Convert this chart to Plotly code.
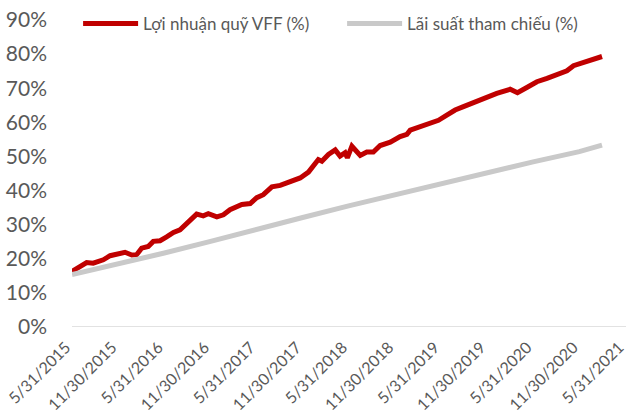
import plotly.graph_objects as go

# VFF fund return (%)
vff_dates = [
    "2015-05-31", "2015-07-28", "2015-08-23", "2015-10-02", "2015-10-29", "2015-11-24",
    "2015-12-27", "2016-01-23", "2016-02-11", "2016-03-02", "2016-03-28", "2016-04-17",
    "2016-05-14", "2016-06-09", "2016-07-06", "2016-08-01", "2016-08-28", "2016-10-06",
    "2016-11-01", "2016-11-21", "2016-12-25", "2017-01-20", "2017-02-15", "2017-04-03",
    "2017-05-06", "2017-06-01", "2017-06-27", "2017-07-31", "2017-09-02", "2017-10-11",
    "2017-11-20", "2017-12-23", "2018-01-18", "2018-01-31", "2018-02-14", "2018-03-12",
    "2018-04-08", "2018-04-27", "2018-05-17", "2018-05-26", "2018-06-13", "2018-07-16",
    "2018-08-11", "2018-09-06", "2018-10-03", "2018-11-12", "2018-12-21", "2019-01-17",
    "2019-01-30", "2019-03-11", "2019-04-19", "2019-05-22", "2019-06-24", "2019-07-27",
    "2019-08-29", "2019-10-08", "2019-11-16", "2020-01-08", "2020-03-01", "2020-03-30",
    "2020-05-06", "2020-06-15", "2020-07-25", "2020-09-09", "2020-10-12", "2020-11-07",
    "2020-12-17", "2021-01-25", "2021-02-28",
]
vff_values = [
    16.3, 18.9, 18.7, 19.7, 20.9, 21.5,
    21.9, 21.1, 21.2, 23.1, 23.6, 25.1,
    25.3, 26.4, 27.7, 28.5, 30.5, 33.1,
    32.6, 33.2, 32.3, 32.9, 34.4, 35.9,
    36.2, 37.9, 38.8, 41.1, 41.5, 42.7,
    43.7, 45.4, 47.6, 49.1, 48.6, 50.6,
    51.9, 50.1, 51.1, 49.6, 53.0, 50.3,
    51.3, 51.3, 53.2, 54.2, 55.8, 56.5,
    57.7, 58.7, 59.9, 60.6, 62.1, 63.6,
    64.6, 65.8, 67.3, 68.5, 69.7, 68.7,
    70.2, 71.9, 72.9, 74.1, 75.1, 76.6,
    77.6, 78.5, 79.3,
]

# Reference rate (%)
ref_dates = [
    "2015-05-31", "2015-11-30", "2016-05-31", "2016-11-30", "2017-05-31", "2017-11-30",
    "2018-05-31", "2018-11-30", "2019-05-31", "2019-11-30", "2020-05-31", "2020-11-30",
    "2021-02-28",
]
ref_values = [15.4, 18.4, 21.7, 25.1, 28.7, 32.1, 35.5, 38.8, 42.0, 45.3, 48.4, 51.4, 53.3]

tick_dates = [
    "2015-05-31", "2015-11-30", "2016-05-31", "2016-11-30", "2017-05-31", "2017-11-30",
    "2018-05-31", "2018-11-30", "2019-05-31", "2019-11-30", "2020-05-31", "2020-11-30",
    "2021-05-31",
]
tick_labels = [
    "5/31/2015", "11/30/2015", "5/31/2016", "11/30/2016", "5/31/2017", "11/30/2017",
    "5/31/2018", "11/30/2018", "5/31/2019", "11/30/2019", "5/31/2020", "11/30/2020",
    "5/31/2021",
]
y_ticks = [0, 10, 20, 30, 40, 50, 60, 70, 80, 90]
y_labels = [f"{v}%" for v in y_ticks]

fig = go.Figure()
fig.add_trace(go.Scatter(
    x=vff_dates, y=vff_values, mode="lines", name="Lợi nhuận quỹ VFF (%)",
    line=dict(color="#C00000", width=5),
))
fig.add_trace(go.Scatter(
    x=ref_dates, y=ref_values, mode="lines", name="Lãi suất tham chiếu (%)",
    line=dict(color="#C9C9C9", width=5),
))

font_color = "#595959"
fig.update_layout(
    width=630, height=415,
    margin=dict(l=72, r=4, t=20, b=88),
    paper_bgcolor="white", plot_bgcolor="white",
    font=dict(family="Lato", color=font_color),
    showlegend=True,
    legend=dict(
        orientation="h", x=0.011, y=0.987, xanchor="left", yanchor="middle",
        font=dict(size=17, color=font_color), itemwidth=55,
        entrywidthmode="pixels", entrywidth=194,
        bgcolor="rgba(0,0,0,0)",
    ),
    xaxis=dict(
        type="date", range=["2015-05-31", "2021-06-03"],
        tickmode="array", tickvals=tick_dates, ticktext=tick_labels,
        tickangle=-45, tickfont=dict(size=16, color=font_color),
        showgrid=False, showline=False, zeroline=False, ticks="",
        automargin=False, ticklabeloverflow="allow",
        ticklabelshift=-6, ticklabelstandoff=7,
    ),
    yaxis=dict(
        range=[0, 90], tickmode="array", tickvals=y_ticks, ticktext=y_labels,
        tickfont=dict(size=21, color=font_color),
        showgrid=False, showline=False, zeroline=False, ticks="",
        automargin=False, ticklabelstandoff=24,
    ),
    shapes=[dict(type="line", xref="paper", yref="y", x0=0, x1=1, y0=0, y1=0,
                 line=dict(color="#D9D9D9", width=1.5), layer="below")],
)

fig.write_html(
    "out.html",
    config={"displayModeBar": False},
    post_script="document.body.style.margin='0';document.body.style.overflow='hidden';",
)
